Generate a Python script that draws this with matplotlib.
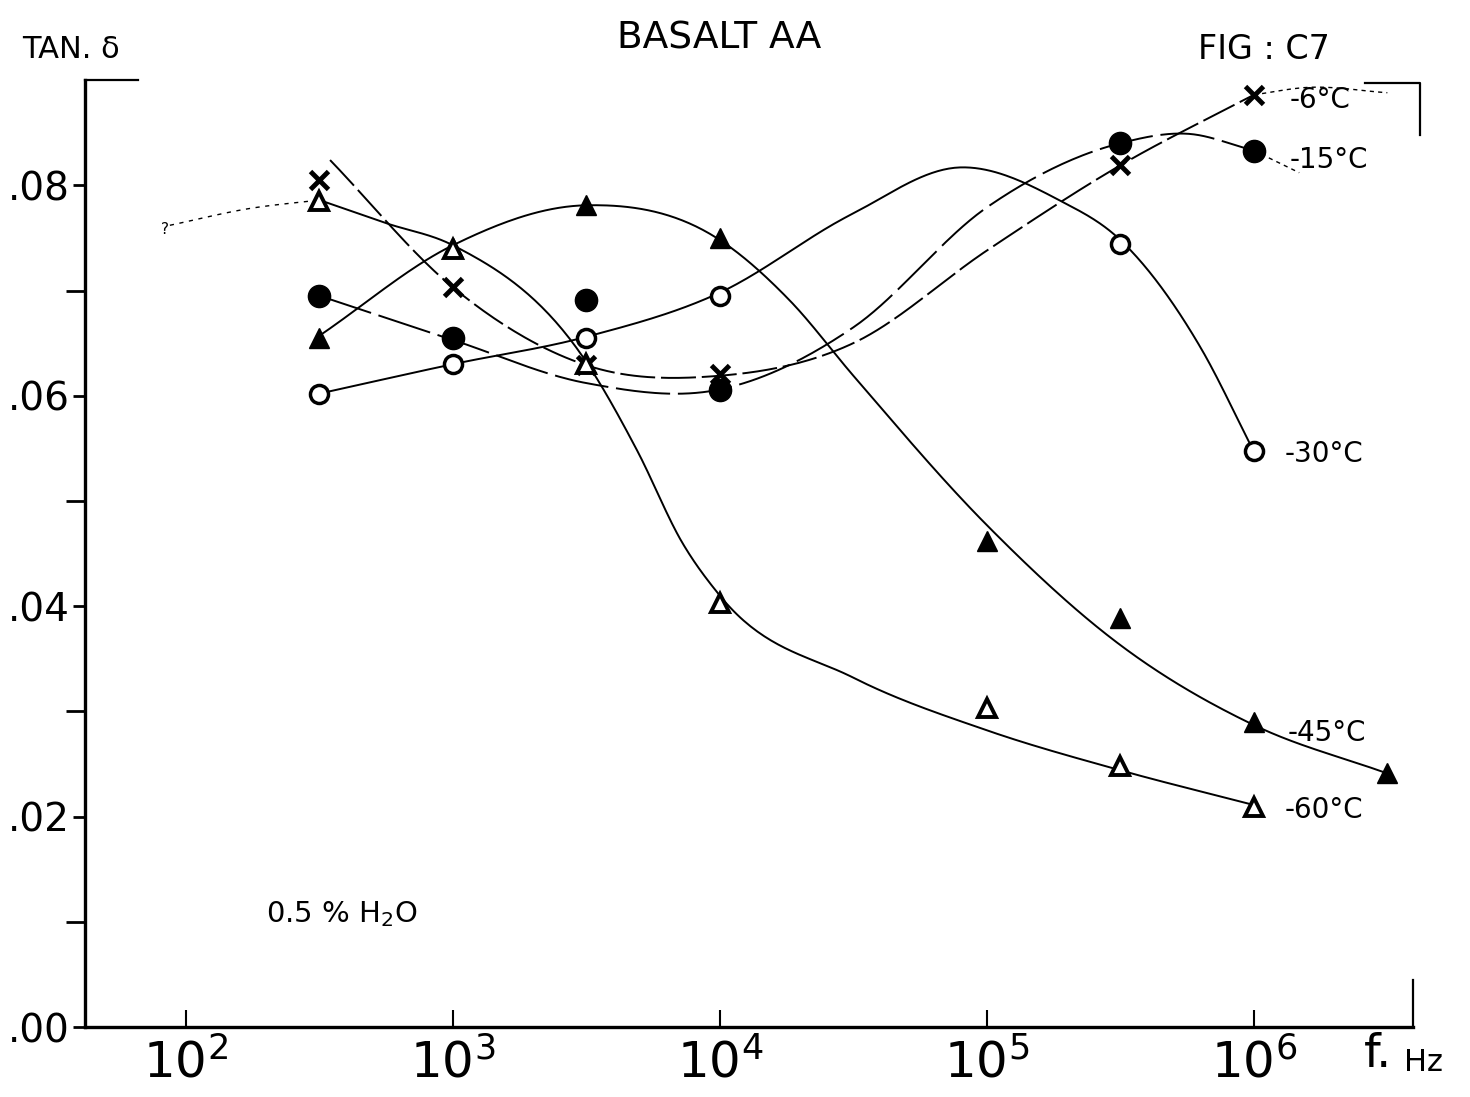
import numpy as np
import matplotlib
matplotlib.use("Agg")
import matplotlib.pyplot as plt

# measured points (frequency in Hz, tan delta)
f_pts = [10**2.5, 1e3, 10**3.5, 1e4, 1e5, 10**5.5, 1e6, 10**6.5]

m6_f = [10**2.5, 1e3, 10**3.5, 1e4, 10**5.5, 1e6]
m6_t = [0.0805, 0.0703, 0.0629, 0.0621, 0.0819, 0.0886]

m15_f = [10**2.5, 1e3, 10**3.5, 1e4, 10**5.5, 1e6]
m15_t = [0.0695, 0.0655, 0.0691, 0.0605, 0.0840, 0.0833]

m30_f = [10**2.5, 1e3, 10**3.5, 1e4, 10**5.5, 1e6]
m30_t = [0.0602, 0.0630, 0.0655, 0.0695, 0.0744, 0.0547]

m45_f = f_pts
m45_t = [0.0655, 0.0740, 0.0781, 0.0750, 0.0462, 0.0389, 0.0290, 0.0241]

m60_f = [10**2.5, 1e3, 10**3.5, 1e4, 1e5, 10**5.5, 1e6]
m60_t = [0.0785, 0.0739, 0.0630, 0.0403, 0.0303, 0.0248, 0.0209]

c6_lf = [2.54, 3.0, 3.5, 4.0, 4.5, 5.0, 5.5, 6.0]
c6_t = [0.0824, 0.0703, 0.0629, 0.0619, 0.0650, 0.0738, 0.0819, 0.0886]
c6_ext_lf = [6.0, 6.2, 6.5]
c6_ext_t = [0.0886, 0.0893, 0.0888]

c15_lf = [2.5, 3.0, 3.5, 4.0, 4.5, 5.0, 5.5, 5.75, 6.0]
c15_t = [0.0695, 0.0653, 0.0612, 0.0606, 0.0665, 0.0779, 0.0840, 0.0849, 0.0833]
c15_ext_lf = [6.0, 6.17]
c15_ext_t = [0.0833, 0.0812]

c30_lf = [2.5, 3.0, 3.5, 4.0, 4.49, 4.9, 5.27, 5.5, 5.8, 6.0]
c30_t = [0.0602, 0.0630, 0.0656, 0.0698, 0.0772, 0.0817, 0.0786, 0.0748, 0.0646, 0.0547]

c45_lf = [2.5, 3.0, 3.5, 4.0, 4.26, 4.5, 5.0, 5.5, 6.0, 6.5]
c45_t = [0.0657, 0.0743, 0.0781, 0.0748, 0.0691, 0.0619, 0.0477, 0.0363, 0.0287, 0.0241]

c60_lf = [2.5, 2.75, 3.0, 3.5, 3.69, 3.86, 4.0, 4.5, 5.0, 5.5, 6.0]
c60_t = [0.0786, 0.0764, 0.0743, 0.0632, 0.0548, 0.0460, 0.0410, 0.0332, 0.0282, 0.0244, 0.0211]
c60_ext_lf = [1.94, 2.24, 2.5]
c60_ext_t = [0.0762, 0.0778, 0.0786]

labels = ["-6°C", "-15°C", "-30°C", "-45°C", "-60°C"]
label_lf = [6.135, 6.135, 6.116, 6.125, 6.116]
label_t = [0.0881, 0.0824, 0.0545, 0.0279, 0.0206]


def smooth(lf, t, n=40):
    # cubic hermite through the read-off curve positions (log x)
    x = np.asarray(lf, float)
    y = np.asarray(t, float)
    m = np.gradient(y, x)
    xs, ys = [], []
    s = np.linspace(0, 1, n)
    for i in range(len(x) - 1):
        h = x[i + 1] - x[i]
        h00 = 2 * s**3 - 3 * s**2 + 1
        h10 = s**3 - 2 * s**2 + s
        h01 = -2 * s**3 + 3 * s**2
        h11 = s**3 - s**2
        xs.append(x[i] + s * h)
        ys.append(h00 * y[i] + h10 * h * m[i] + h01 * y[i + 1] + h11 * h * m[i + 1])
    return 10 ** np.concatenate(xs), np.concatenate(ys)


fig = plt.figure(figsize=(14.7, 10.97), dpi=100)
ax = fig.add_axes([0.0578, 0.0638, 0.9034, 0.8632])
ax.set_xscale("log")
ax.set_xlim(10**1.622, 10**6.596)
ax.set_ylim(0, 0.09)

lw = 1.4
# curves
x, y = smooth(c6_lf, c6_t)
ax.plot(x, y, color="black", lw=lw, dashes=(18, 3))
x, y = smooth(c6_ext_lf, c6_ext_t)
ax.plot(x, y, color="black", lw=1.0, dashes=(3, 3))

x, y = smooth(c15_lf, c15_t)
ax.plot(x, y, color="black", lw=lw, dashes=(28, 4))
x, y = smooth(c15_ext_lf, c15_ext_t)
ax.plot(x, y, color="black", lw=1.0, dashes=(3, 3))

x, y = smooth(c30_lf, c30_t)
ax.plot(x, y, color="black", lw=lw)

x, y = smooth(c45_lf, c45_t)
ax.plot(x, y, color="black", lw=lw)

x, y = smooth(c60_lf, c60_t)
ax.plot(x, y, color="black", lw=lw)
x, y = smooth(c60_ext_lf, c60_ext_t)
ax.plot(x, y, color="black", lw=1.0, dashes=(3, 4))

# markers
ax.plot(m6_f, m6_t, "x", color="black", ms=13, mew=3.5, ls="none")
ax.plot(m15_f, m15_t, "o", color="black", ms=16, ls="none")
ax.plot(m30_f, m30_t, "o", mfc="white", mec="black", ms=13, mew=2.5, ls="none")
ax.plot(m45_f, m45_t, "^", color="black", ms=15, ls="none")
ax.plot(m60_f, m60_t, "^", mfc="white", mec="black", ms=13, mew=2.8, ls="none")

for lab, lf, t in zip(labels, label_lf, label_t):
    ax.text(10**lf, t, lab, fontsize=20, va="center", ha="left")

ax.text(10**1.92, 0.0758, "?", fontsize=11, ha="center", va="center")
ax.text(10**2.30, 0.0107, "0.5 % H$_2$O", fontsize=21, va="center", ha="left")

# axes styling
for side in ["top", "right"]:
    ax.spines[side].set_visible(False)
for side in ["left", "bottom"]:
    ax.spines[side].set_linewidth(2.4)

ax.plot([0, 0.04], [1, 1], color="black", lw=1.6, transform=ax.transAxes, clip_on=False)
ax.plot([1, 1], [0, 0.05], color="black", lw=1.6, transform=ax.transAxes, clip_on=False)
ax.plot([0.964, 1.005, 1.005], [0.9968, 0.9968, 0.942], color="black", lw=1.6,
        transform=ax.transAxes, clip_on=False)

ax.set_xticks([1e2, 1e3, 1e4, 1e5, 1e6])
ax.set_xticklabels([r"$\mathregular{10^{%d}}$" % k for k in range(2, 7)], fontsize=36)
ax.xaxis.set_minor_locator(matplotlib.ticker.NullLocator())
ax.tick_params(axis="x", direction="in", length=12, width=1.5, pad=8)

ax.set_yticks([0, 0.02, 0.04, 0.06, 0.08])
ax.set_yticklabels([".00", ".02", ".04", ".06", ".08"], fontsize=28)
ax.set_yticks([0.01, 0.03, 0.05, 0.07], minor=True)
ax.tick_params(axis="y", which="major", direction="out", length=9, width=2, pad=2)
ax.tick_params(axis="y", which="minor", direction="out", length=14, width=2)

fig.text(0.489, 0.965, "BASALT AA", fontsize=27, ha="center", va="center")
fig.text(0.015, 0.955, "TAN. δ", fontsize=22, ha="left", va="center")
fig.text(0.815, 0.955, "FIG : C7", fontsize=24, ha="left", va="center")
fig.text(0.928, 0.018, "f.", fontsize=34, ha="left", va="bottom")
fig.text(0.955, 0.018, "Hz", fontsize=22, ha="left", va="bottom")

fig.savefig("out.png", dpi=100)
